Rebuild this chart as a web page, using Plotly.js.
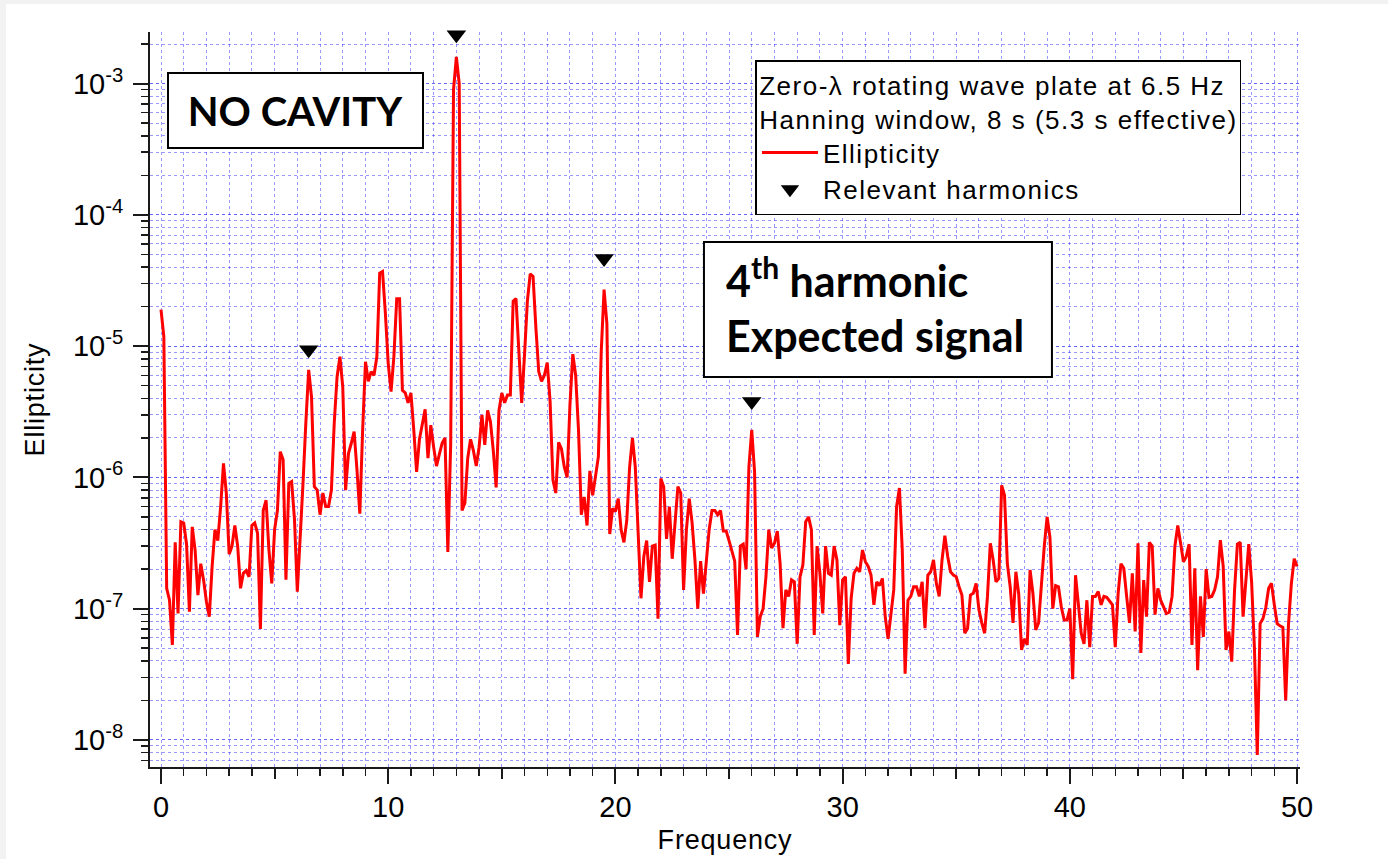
<!DOCTYPE html>
<html>
<head>
<meta charset="utf-8">
<script src="https://cdn.plot.ly/plotly-3.0.1.min.js"></script>
<style>
  html, body { margin: 0; padding: 0; background: #f2f2f2; }
  #plot { position: absolute; left: 6px; top: 4px; width: 1382px; height: 855px; background: #ffffff; }
  /* wider letter spacing for the legend texts (family list contains Arimo only there) */
  text[style*="Arimo"] { letter-spacing: 1.5px; }
  text[style*="Tinos"] { letter-spacing: 0.8px; }
</style>
</head>
<body>
<div id="plot"></div>
<script>
// Frequency bins: 8 s Hanning window -> 0.125 Hz resolution, starting at 0 Hz
const freqStart = 0;
const binWidth = 0.125;

// Ellipticity spectrum values, one per bin 0 ... 50 Hz
const ellipticity = [
  1.9e-5, 1.18e-5, 1.43e-7, 1.16e-7, 5.3e-8, 3.2e-7, 9.2e-8, 4.6e-7, 4.5e-7, 3.1e-7,
  9.5e-8, 4.2e-7, 2.8e-7, 1.27e-7, 2.2e-7, 1.65e-7, 1.13e-7, 8.7e-8, 2.1e-7, 4.0e-7,
  3.3e-7, 6.0e-7, 1.28e-6, 7.6e-7, 2.6e-7, 3.0e-7, 4.3e-7, 3.0e-7, 1.43e-7, 1.86e-7,
  1.95e-7, 1.75e-7, 4.3e-7, 4.5e-7, 3.75e-7, 7.0e-8, 5.6e-7, 6.7e-7, 2.8e-7, 1.56e-7,
  4.0e-7, 5.6e-7, 1.57e-6, 1.36e-6, 1.66e-7, 9.0e-7, 9.3e-7, 4.8e-7, 1.35e-7, 4.0e-7,
  9.0e-7, 2.6e-6, 6.6e-6, 4.1e-6, 8.5e-7, 8.0e-7, 5.2e-7, 7.6e-7, 6.0e-7, 6.0e-7,
  8.0e-7, 2.6e-6, 5.85e-6, 8.3e-6, 4.9e-6, 8.0e-7, 1.52e-6, 1.82e-6, 2.23e-6, 1.14e-6,
  5.3e-7, 2.3e-6, 7.6e-6, 5.4e-6, 6.4e-6, 6.0e-6, 8.3e-6, 3.6e-5, 3.7e-5, 1.78e-5,
  7.4e-6, 4.5e-6, 8.3e-6, 2.3e-5, 2.3e-5, 4.6e-6, 4.4e-6, 3.7e-6, 4.4e-6, 2.3e-6,
  1.1e-6, 1.95e-6, 2.6e-6, 3.3e-6, 1.4e-6, 2.5e-6, 1.7e-6, 1.22e-6, 1.5e-6, 1.83e-6,
  2.0e-6, 2.7e-7, 1.8e-6, 9.0e-4, 1.6e-3, 1.0e-3, 5.6e-7, 6.4e-7, 1.4e-6, 1.95e-6,
  1.6e-6, 1.22e-6, 1.7e-6, 3.0e-6, 1.77e-6, 3.24e-6, 2.65e-6, 1.6e-6, 8.4e-7, 3.24e-6,
  4.4e-6, 3.7e-6, 4.25e-6, 4.25e-6, 2.2e-5, 2.3e-5, 9.2e-6, 3.7e-6, 8.6e-6, 2.2e-5,
  3.55e-5, 3.4e-5, 1.38e-5, 6.4e-6, 5.4e-6, 6.0e-6, 7.5e-6, 3.8e-6, 9.6e-7, 7.6e-7,
  1.85e-6, 1.65e-6, 1.2e-6, 1.0e-6, 3.6e-6, 8.7e-6, 6.0e-6, 2.3e-6, 5.2e-7, 7.1e-7,
  4.3e-7, 1.12e-6, 7.3e-7, 1.0e-6, 1.44e-6, 9.0e-6, 2.7e-5, 1.48e-5, 3.7e-7, 5.8e-7,
  5.5e-7, 6.9e-7, 4.0e-7, 3.2e-7, 4.7e-7, 1.2e-6, 2.0e-6, 1.2e-6, 3.5e-7, 1.2e-7,
  2.5e-7, 3.3e-7, 1.6e-7, 3.0e-7, 3.05e-7, 8.4e-8, 9.8e-7, 8.5e-7, 3.4e-7, 6.0e-7,
  2.4e-7, 4.5e-7, 8.5e-7, 7.6e-7, 1.39e-7, 4.0e-7, 6.9e-7, 4.5e-7, 2.35e-7, 1.0e-7,
  2.3e-7, 1.3e-7, 2.2e-7, 4.0e-7, 5.6e-7, 5.6e-7, 5.2e-7, 5.6e-7, 3.9e-7, 3.9e-7,
  3.3e-7, 2.8e-7, 2.3e-7, 6.3e-8, 3.0e-7, 3.1e-7, 2.0e-7, 1.2e-6, 2.3e-6, 1.1e-6,
  6.1e-8, 8.7e-8, 1.0e-7, 1.75e-7, 4.0e-7, 2.9e-7, 3.15e-7, 3.9e-7, 2.2e-7, 7.1e-8,
  1.39e-7, 1.24e-7, 1.66e-7, 1.6e-7, 5.4e-8, 1.75e-7, 2.15e-7, 4.6e-7, 5.0e-7, 4.0e-7,
  6.3e-8, 3.0e-7, 1.86e-7, 9.2e-8, 3.0e-7, 1.86e-7, 1.8e-7, 3.0e-7, 2.35e-7, 7.5e-8,
  1.66e-7, 1.75e-7, 3.8e-8, 1.2e-7, 1.86e-7, 2.03e-7, 1.91e-7, 2.8e-7, 2.28e-7, 2.1e-7,
  1.8e-7, 1.07e-7, 1.6e-7, 1.5e-7, 1.7e-7, 8.7e-8, 5.9e-8, 9.0e-8, 1.39e-7, 6.0e-7,
  8.3e-7, 2.8e-7, 3.2e-8, 1.16e-7, 1.24e-7, 1.47e-7, 1.47e-7, 1.24e-7, 1.6e-7, 7.1e-8,
  1.8e-7, 1.91e-7, 2.35e-7, 1.56e-7, 1.24e-7, 2.35e-7, 3.6e-7, 2.5e-7, 1.91e-7, 1.8e-7,
  1.75e-7, 1.47e-7, 1.27e-7, 6.5e-8, 7.1e-8, 1.27e-7, 1.31e-7, 1.56e-7, 9.8e-8, 7.8e-8,
  6.5e-8, 1.24e-7, 3.15e-7, 2.35e-7, 1.6e-7, 1.7e-7, 8.7e-7, 7.3e-7, 2.2e-7, 1.47e-7,
  7.8e-8, 1.91e-7, 1.3e-7, 4.85e-8, 5.9e-8, 5.3e-8, 1.97e-7, 1.31e-7, 6.9e-8, 7.8e-8,
  1.65e-7, 3.0e-7, 5.0e-7, 3.5e-7, 1.0e-7, 1.5e-7, 1.47e-7, 1.03e-7, 8.2e-8, 8.2e-8,
  1.0e-7, 2.9e-8, 1.8e-7, 1.1e-7, 6.5e-8, 5.4e-8, 1.16e-7, 5.1e-8, 1.24e-7, 1.24e-7,
  1.35e-7, 1.07e-7, 1.24e-7, 1.22e-7, 1.13e-7, 1.07e-7, 5.1e-8, 1.3e-7, 2.2e-7, 2.03e-7,
  1.24e-7, 7.8e-8, 1.86e-7, 6.7e-8, 3.15e-7, 4.6e-8, 1.65e-7, 8.7e-8, 3.2e-7, 3.0e-7,
  9.0e-8, 1.43e-7, 1.16e-7, 1.04e-7, 9.2e-8, 9.4e-8, 1.24e-7, 3.0e-7, 4.3e-7, 3.15e-7,
  2.28e-7, 2.5e-7, 3.1e-7, 5.3e-8, 2.03e-7, 3.4e-8, 1.24e-7, 6.1e-8, 2.0e-7, 1.22e-7,
  1.24e-7, 1.39e-7, 1.75e-7, 3.33e-7, 2.1e-7, 4.85e-8, 6.7e-8, 3.95e-8, 1.39e-7, 3.1e-7,
  3.2e-7, 8.7e-8, 1.75e-7, 3.1e-7, 1.6e-7, 5.0e-8, 7.7e-9, 7.7e-8, 8.4e-8, 1.02e-7,
  1.43e-7, 1.56e-7, 1.07e-7, 7.7e-8, 7.4e-8, 7.2e-8, 2.0e-8, 7.7e-8, 1.56e-7, 2.4e-7,
  2.1e-7
];

// Relevant harmonics (multiples of 6.5 Hz) and marker heights
const harmonicFreq = [6.5, 13, 19.5, 26];
const harmonicMark = [9.4e-6, 2.36e-3, 4.66e-5, 3.78e-6];

// Tick labels
const yTickVals = [1e-8, 1e-7, 1e-6, 1e-5, 1e-4, 1e-3];
const yTickText = ['10<sup>-8</sup>', '10<sup>-7</sup>', '10<sup>-6</sup>', '10<sup>-5</sup>', '10<sup>-4</sup>', '10<sup>-3</sup>'];

// Text
const legendTitle = 'Zero-λ rotating wave plate at 6.5 Hz<br>Hanning window, 8 s (5.3 s effective)';
const seriesName = 'Ellipticity';
const markerName = 'Relevant harmonics';
const xTitle = 'Frequency';
const yTitle = 'Ellipticity';
const boxText1 = 'NO CAVITY';
const boxText2a = '4<sup>th</sup> harmonic';
const boxText2b = 'Expected signal';

const axisFont = 'Liberation Sans, Arial, Helvetica, sans-serif';
const legendFont = 'Liberation Sans, Arimo, Helvetica, sans-serif';
const titleFont = 'Liberation Sans, Tinos, Helvetica, sans-serif';
const boxFont = 'Lato, Carlito, Calibri, sans-serif';
const gridCol = 'rgba(50,50,255,0.5)';
const axisCol = '#1a1a1a';

const traces = [
  {
    type: 'scatter', mode: 'lines', name: seriesName,
    x0: freqStart, dx: binWidth, y: ellipticity,
    line: { color: '#ff0000', width: 3 },
    hoverinfo: 'skip'
  },
  {
    type: 'scatter', mode: 'markers', name: markerName,
    x: harmonicFreq, y: harmonicMark,
    marker: { symbol: 'triangle-down', size: 17, color: '#000000' },
    cliponaxis: false, hoverinfo: 'skip'
  },
  {
    // carrier for the secondary x axis (medium ticks at 5, 15, ...)
    type: 'scatter', mode: 'markers', x: [], y: [], xaxis: 'x2', yaxis: 'y',
    showlegend: false, hoverinfo: 'skip'
  }
];

const layout = {
  width: 1382, height: 855,
  margin: { l: 144, r: 88, t: 28, b: 92 },
  paper_bgcolor: '#ffffff', plot_bgcolor: '#ffffff',
  font: { family: axisFont, color: '#000000' },
  showlegend: true,
  xaxis: {
    type: 'linear', range: [-0.484, 50.13],
    showline: true, linecolor: axisCol, linewidth: 2, zeroline: false,
    ticks: 'outside', ticklen: 15, tickwidth: 2, tickcolor: axisCol,
    tick0: 0, dtick: 10,
    tickfont: { family: axisFont, size: 29, color: '#000' },
    ticklabelstandoff: -2,
    showgrid: true, gridcolor: gridCol, griddash: 'dot', gridwidth: 1,
    minor: { dtick: 1, ticks: 'outside', ticklen: 7, tickwidth: 1.5, tickcolor: axisCol,
             showgrid: true, gridcolor: gridCol, griddash: 'dot', gridwidth: 1 },
    title: { text: xTitle, font: { family: titleFont, size: 27, color: '#000' }, standoff: 8 }
  },
  xaxis2: {
    type: 'linear', range: [-0.484, 50.13], overlaying: 'x', anchor: 'y', side: 'bottom',
    showline: false, zeroline: false, showgrid: false, showticklabels: false,
    ticks: 'outside', ticklen: 11, tickwidth: 2, tickcolor: axisCol,
    tick0: 5, dtick: 10
  },
  yaxis: {
    type: 'log', range: [-8.206, -2.607],
    showline: true, linecolor: axisCol, linewidth: 2, zeroline: false,
    ticks: 'outside', ticklen: 15, tickwidth: 2, tickcolor: axisCol,
    tickmode: 'array', tickvals: yTickVals, ticktext: yTickText,
    tickfont: { family: axisFont, size: 29, color: '#000' },
    ticklabelstandoff: 4,
    showgrid: true, gridcolor: gridCol, griddash: 'dot', gridwidth: 1,
    minor: { tickmode: 'linear', dtick: 'D1', ticks: 'outside', ticklen: 7, tickwidth: 1.5, tickcolor: axisCol,
             showgrid: true, gridcolor: gridCol, griddash: 'dot', gridwidth: 1 },
    title: { text: yTitle, font: { family: titleFont, size: 27, color: '#000' }, standoff: 20 }
  },
  legend: {
    x: 0.5265, y: 0.9619, xanchor: 'left', yanchor: 'top',
    bgcolor: '#ffffff', bordercolor: '#000000', borderwidth: 1.5,
    font: { family: legendFont, size: 26, color: '#000' },
    title: { text: legendTitle, side: 'top center', font: { family: legendFont, size: 26, color: '#000' } },
    itemwidth: 56, tracegroupgap: 0, traceorder: 'normal'
  },
  shapes: [
    { type: 'rect', xref: 'paper', yref: 'paper', x0: 0.4817, x1: 0.7843, y0: 0.5306, y1: 0.7143,
      line: { color: '#000', width: 2 }, fillcolor: '#ffffff', layer: 'above' }
  ],
  annotations: [
    { xref: 'paper', yref: 'paper', x: 0.0152, y: 0.9452, xanchor: 'left', yanchor: 'top',
      text: boxText1, showarrow: false, width: 253, height: 73, borderpad: 0,
      bordercolor: '#000', borderwidth: 2, bgcolor: '#ffffff', align: 'center', valign: 'middle',
      font: { family: boxFont, size: 40, weight: 700, color: '#000' } },
    { xref: 'paper', yref: 'paper', x: 0.4995, y: 0.666, xanchor: 'left', yanchor: 'middle',
      text: boxText2a, showarrow: false, align: 'left',
      font: { family: boxFont, size: 43, weight: 700, color: '#000' } },
    { xref: 'paper', yref: 'paper', x: 0.4995, y: 0.5864, xanchor: 'left', yanchor: 'middle',
      text: boxText2b, showarrow: false, align: 'left',
      font: { family: boxFont, size: 43, weight: 700, color: '#000' } }
  ]
};

Plotly.newPlot('plot', traces, layout, { staticPlot: true, displayModeBar: false });
</script>
</body>
</html>
